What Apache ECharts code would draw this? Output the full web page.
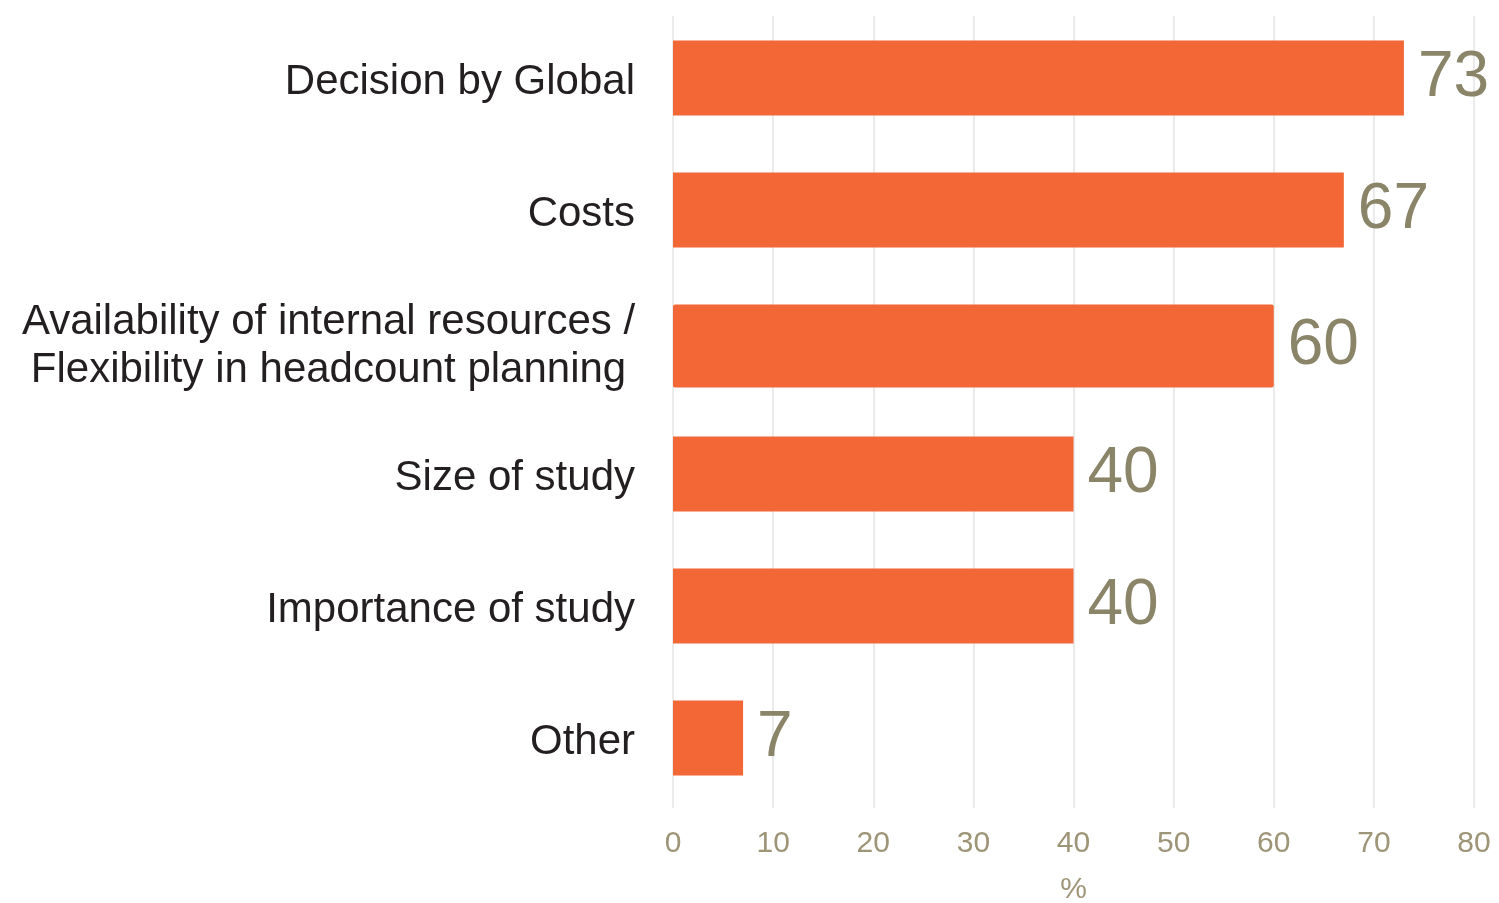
<!DOCTYPE html>
<html>
<head>
<meta charset="utf-8">
<script src="https://cdn.jsdelivr.net/npm/echarts@6/dist/echarts.min.js"></script>
<style>
  html, body { margin: 0; padding: 0; background: #fff; }
  #main { width: 1499px; height: 903px; }
</style>
</head>
<body>
<div id="main"></div>
<script>
// data
const categories = [
  'Decision by Global',
  'Costs',
  'Availability of internal resources /\nFlexibility in headcount planning',
  'Size of study',
  'Importance of study',
  'Other'
];
const values = [73, 67, 60, 40, 40, 7];
const xTicks = { min: 0, max: 80, step: 10 };
const wideIndex = 2; // this bar is drawn slightly thicker in the original

const myChart = echarts.init(document.getElementById('main'));

const labelStyle = {
  show: true,
  position: 'right',
  distance: 14,
  color: '#8a8468',
  fontSize: 64,
  fontFamily: 'Liberation Sans, Arial, sans-serif'
};

myChart.setOption({
  animation: false,
  grid: { left: 673, right: 25, top: 16, bottom: 95, containLabel: false, outerBoundsMode: 'none' },
  xAxis: {
    type: 'value',
    min: xTicks.min,
    max: xTicks.max,
    interval: xTicks.step,
    name: '%',
    nameLocation: 'middle',
    nameGap: 67,
    nameTextStyle: { color: '#9e9478', fontSize: 30, fontFamily: 'Liberation Sans, Arial, sans-serif' },
    axisLine: { show: false },
    axisTick: { show: false },
    axisLabel: { color: '#9e9478', fontSize: 30, margin: 21, fontFamily: 'Liberation Sans, Arial, sans-serif' },
    splitLine: { show: true, lineStyle: { color: '#e4e4e4', width: 1.5 } }
  },
  yAxis: {
    type: 'category',
    data: categories,
    inverse: true,
    axisLine: { show: false },
    axisTick: { show: false },
    axisLabel: {
      margin: 38,
      color: '#231f20',
      fontSize: 42,
      lineHeight: 48,
      fontFamily: 'Liberation Sans, Arial, sans-serif',
      formatter: function (value) {
        if (value.indexOf('\n') >= 0) {
          return value.split('\n').map(s => '{c|' + s + '}').join('\n');
        }
        return value;
      },
      rich: {
        c: { width: 613, align: 'center', fontSize: 42, lineHeight: 48, color: '#231f20', fontFamily: 'Liberation Sans, Arial, sans-serif' }
      }
    }
  },
  series: [
    {
      type: 'bar',
      barWidth: 75,
      data: values.map((v, i) => i === wideIndex ? '-' : v),
      itemStyle: { color: '#f26735' },
      label: labelStyle
    },
    {
      type: 'bar',
      barWidth: 83,
      barGap: '-100%',
      data: values.map((v, i) => i === wideIndex ? v : '-'),
      itemStyle: { color: '#f26735', borderRadius: 2 },
      label: labelStyle
    }
  ]
});
</script>
</body>
</html>
